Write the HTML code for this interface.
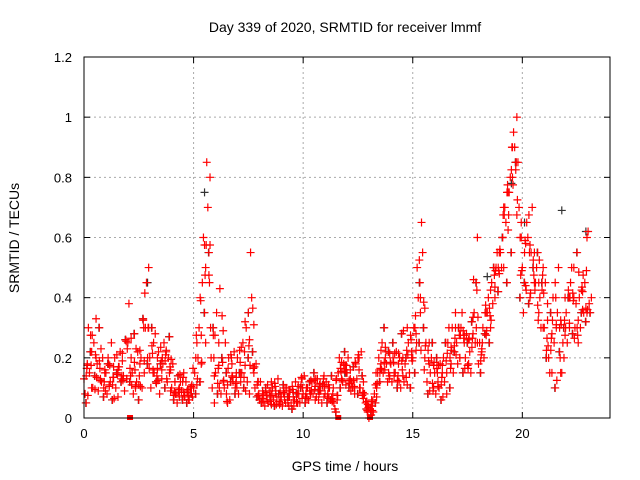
<!DOCTYPE html>
<html><head><meta charset="utf-8"><style>
body{margin:0;background:#fff;}
svg{display:block;font-family:"Liberation Sans",sans-serif;}
</style></head><body>
<svg id="chart" width="640" height="480" viewBox="0 0 640 480">
<rect width="640" height="480" fill="#fff"/>
<text x="345" y="32" font-size="14" text-anchor="middle">Day 339 of 2020, SRMTID for receiver lmmf</text>
<text x="345" y="471" font-size="14" text-anchor="middle">GPS time / hours</text>
<text x="19" y="238" font-size="14" text-anchor="middle" transform="rotate(-90 19 238)">SRMTID / TECUs</text>
<g id="grid"></g><g id="ticks"></g><g id="marks"></g>
<rect x="84" y="57" width="526" height="361" fill="none" stroke="#000"/>
</svg>
<script>
const times=[0,0.2,0.4,0.6,0.8,1,1.2,1.4,1.6,1.8,2,2.2,2.4,2.6,2.8,3,3.2,3.4,3.6,3.8,4,4.2,4.4,4.6,4.8,5,5.2,5.4,5.6,5.8,6,6.2,6.4,6.6,6.8,7,7.2,7.4,7.6,7.8,8,8.2,8.4,8.6,8.8,9,9.2,9.4,9.6,9.8,10,10.2,10.4,10.6,10.8,11,11.2,11.4,11.6,11.8,12,12.2,12.4,12.6,12.8,13,13.2,13.4,13.6,13.8,14,14.2,14.4,14.6,14.8,15,15.2,15.4,15.6,15.8,16,16.2,16.4,16.6,16.8,17,17.2,17.4,17.6,17.8,18,18.2,18.4,18.6,18.8,19,19.2,19.4,19.6,19.8,20,20.2,20.4,20.6,20.8,21,21.2,21.4,21.6,21.8,22,22.2,22.4,22.6,22.8,23];
const seriesA=[.13,.30,.10,.18,.12,.15,.12,.20,.17,.14,.25,.15,.12,.20,.30,.20,.15,.22,.18,.12,.10,.08,.12,.07,.06,.10,.20,.45,.85,.20,.15,.43,.10,.20,.12,.20,.15,.30,.55,.10,.06,.08,.05,.10,.07,.07,.05,.09,.06,.08,.08,.10,.12,.07,.09,.08,.10,.05,.15,.12,.15,.12,.18,.10,.08,.00,.02,.15,.25,.18,.18,.15,.20,.12,.25,.20,.50,.65,.25,.15,.15,.10,.20,.25,.30,.25,.30,.20,.22,.35,.18,.30,.35,.45,.50,.55,.70,.75,.95,.85,.50,.65,.55,.45,.40,.30,.20,.40,.35,.15,.35,.45,.30,.40,.35,.62];
const seriesB=[.08,.15,.25,.09,.20,.08,.25,.10,.22,.09,.38,.08,.22,.10,.45,.10,.28,.08,.25,.20,.18,.05,.09,.12,.10,.15,.30,.60,.70,.10,.35,.08,.25,.06,.22,.08,.25,.12,.40,.18,.12,.04,.09,.06,.13,.04,.10,.05,.12,.05,.14,.06,.08,.13,.05,.12,.06,.03,.20,.18,.20,.10,.13,.22,.05,.03,.08,.20,.15,.12,.12,.22,.10,.18,.15,.30,.40,.55,.12,.20,.08,.18,.12,.30,.15,.18,.35,.28,.15,.25,.25,.20,.40,.38,.55,.50,.65,.80,.90,.70,.35,.60,.70,.50,.30,.45,.15,.25,.50,.25,.25,.50,.38,.30,.45,.38];
const seriesC=[.05,.22,.14,.30,.07,.18,.06,.15,.12,.26,.12,.28,.06,.33,.18,.30,.12,.18,.10,.27,.06,.14,.06,.05,.08,.08,.12,.35,.55,.30,.08,.20,.15,.12,.08,.15,.10,.20,.22,.07,.05,.10,.07,.04,.08,.11,.07,.03,.08,.10,.05,.12,.15,.09,.11,.05,.14,.02,.10,.22,.10,.17,.08,.14,.03,.01,.05,.12,.30,.22,.25,.10,.28,.20,.10,.15,.25,.30,.08,.25,.20,.06,.25,.10,.22,.30,.15,.25,.32,.45,.15,.28,.25,.50,.42,.60,.45,.55,.85,.40,.45,.38,.50,.55,.45,.20,.35,.10,.22,.30,.40,.28,.55,.35,.32,.35];
const seriesD=[.18,.10,.33,.13,.16,.11,.17,.07,.19,.13,.20,.10,.18,.15,.50,.15,.20,.13,.22,.16,.12,.10,.15,.09,.07,.25,.18,.25,.80,.05,.25,.12,.05,.18,.15,.12,.32,.08,.15,.12,.09,.06,.12,.08,.05,.06,.09,.07,.05,.13,.10,.08,.06,.11,.14,.10,.08,.06,.13,.15,.13,.08,.20,.12,.02,.04,.10,.18,.20,.14,.15,.18,.14,.30,.22,.28,.35,.20,.18,.10,.12,.15,.08,.18,.35,.20,.25,.18,.28,.60,.22,.35,.30,.40,.48,.70,.75,.90,1.0,.60,.58,.40,.45,.35,.50,.38,.28,.30,.15,.40,.30,.40,.25,.42,.60,.40];
const grayTimes=[2.9,5.5,7.5,11.9,15.3,18.4,19.5,20.1,21.8,22.9];
const grayVals=[.45,.75,.35,.15,.45,.47,.78,.65,.69,.62];
const zeroMarks=[2.1,11.6,13.05];
const xTicks=[0,5,10,15,20];
const yTicks=[0,0.2,0.4,0.6,0.8,1,1.2];
const yTickLabels=["0","0.2","0.4","0.6","0.8","1","1.2"];
const X0=84,X1=610,Y0=418,Y1=57,XMAX=24,YMAX=1.2;
function xs(v){return X0+(X1-X0)*v/XMAX;}
function ys(v){return Y0-(Y0-Y1)*v/YMAX;}
const NS="http://www.w3.org/2000/svg";
const grid=document.getElementById('grid'),ticks=document.getElementById('ticks'),marks=document.getElementById('marks');
function mk(tag,attrs,parent){const e=document.createElementNS(NS,tag);for(const k in attrs)e.setAttribute(k,attrs[k]);parent.appendChild(e);return e;}
xTicks.forEach(t=>{const x=xs(t);
 if(t>0){const g=mk('line',{x1:x,x2:x,y1:Y1,y2:Y0,stroke:'#aaa','stroke-dasharray':'2,3'},grid);
 
 }
 mk('line',{x1:x,x2:x,y1:Y0,y2:Y0-6,stroke:'#000'},ticks);
 mk('line',{x1:x,x2:x,y1:Y1,y2:Y1+6,stroke:'#000'},ticks);
 const l=mk('text',{x:x,y:Y0+20,'font-size':'13','text-anchor':'middle'},ticks);l.textContent=t;
 
 });
yTicks.forEach((t,i)=>{const y=ys(t);
 if(t>0&&t<YMAX){const g=mk('line',{x1:X0,x2:X1,y1:y,y2:y,stroke:'#aaa','stroke-dasharray':'2,3'},grid);
 
 }
 mk('line',{x1:X0,x2:X0+6,y1:y,y2:y,stroke:'#000'},ticks);
 mk('line',{x1:X1,x2:X1-6,y1:y,y2:y,stroke:'#000'},ticks);
 const l=mk('text',{x:X0-12,y:y+5,'font-size':'13','text-anchor':'end'},ticks);l.textContent=yTickLabels[i];
 
 });
function plus(t,v,color,name){const x=xs(t),y=ys(v);
 const p=mk('path',{d:`M${x-4},${y}h8M${x},${y-4}v8`,stroke:color,'stroke-width':'1.2',fill:'none'},marks);
 
 }
grayTimes.forEach((t,i)=>plus(t,grayVals[i],'#333','gray-point'));
times.forEach((t,i)=>plus(t+0.08,seriesC[i],'#444','gray-point'));
[seriesA,seriesB,seriesC,seriesD].forEach((s,k)=>{times.forEach((t,i)=>{plus(t+k*0.05,s[i],'#f00','red-point');});});
[[seriesA,seriesB],[seriesD,seriesB],[seriesA,seriesC],[seriesC,seriesD]].forEach((pr,k)=>{times.forEach((t,i)=>{if(i+1<times.length)plus(t+0.1+k*0.025,(pr[0][i]+pr[1][i+1])/2,'#f00','red-point');});});
zeroMarks.forEach(t=>{const r=mk('rect',{x:xs(t)-3,y:ys(0)-3,width:6,height:5,fill:'#f00'},marks);
 
 });
</script>
</body></html>
